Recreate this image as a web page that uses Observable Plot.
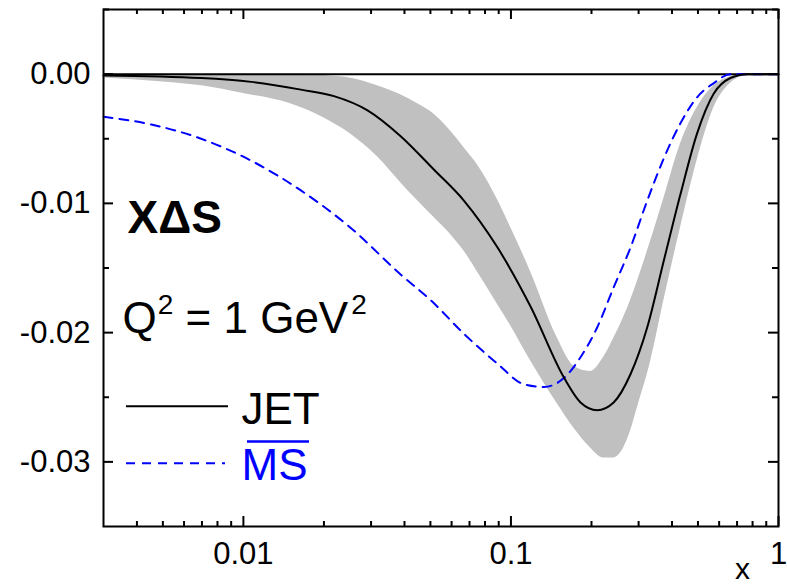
<!DOCTYPE html>
<html><head><meta charset="utf-8">
<script src="https://cdn.jsdelivr.net/npm/d3@7"></script>
<script src="https://cdn.jsdelivr.net/npm/@observablehq/plot@0.6"></script>
<style>
body{margin:0;background:#fff;}
</style>
</head><body><div id="chart"></div>
<script>
// ---- data ----
const bandX = [0.003, 0.005, 0.007, 0.01, 0.015, 0.02, 0.025, 0.0317, 0.0387, 0.0448, 0.0516, 0.06, 0.0668, 0.076, 0.089, 0.1, 0.1185, 0.149, 0.172, 0.198, 0.222, 0.24, 0.264, 0.28, 0.295, 0.333, 0.373, 0.43, 0.496, 0.573, 0.661, 0.762, 1];
const bandUpper = [0, 0, 0, 0, 0, -0.0001, -0.0003, -0.0009, -0.0016, -0.0023, -0.0031, -0.0045, -0.0057, -0.0072, -0.0097, -0.0119, -0.0153, -0.0204, -0.0226, -0.0230, -0.0219, -0.0206, -0.0188, -0.0175, -0.0162, -0.0129, -0.0096, -0.0054, -0.0026, -0.0009, -0.0002, 0, 0];
const bandLower = [-0.0003, -0.0006, -0.0009, -0.0015, -0.0023, -0.0034, -0.0046, -0.0064, -0.0084, -0.0098, -0.0111, -0.0125, -0.0137, -0.0155, -0.0178, -0.0195, -0.0222, -0.0255, -0.0274, -0.0289, -0.0297, -0.0297, -0.0289, -0.0276, -0.0260, -0.0222, -0.0175, -0.0119, -0.0067, -0.0026, -0.0007, -0.0001, 0];

const jetX = [0.003, 0.00695, 0.0107, 0.0164, 0.0218, 0.0291, 0.0387, 0.0516, 0.0668, 0.089, 0.1185, 0.158, 0.182, 0.21, 0.242, 0.28, 0.323, 0.373, 0.43, 0.496, 0.573, 0.661, 0.762, 1];
const jetY = [-0.0001, -0.0003, -0.0006, -0.0012, -0.0017, -0.0028, -0.0048, -0.0074, -0.0098, -0.0134, -0.0180, -0.0235, -0.0254, -0.0260, -0.0254, -0.0232, -0.0196, -0.0144, -0.0093, -0.0046, -0.0015, -0.0003, 0, 0];

const msX = [0.003, 0.00453, 0.00695, 0.0107, 0.0164, 0.0252, 0.0387, 0.0502, 0.0668, 0.089, 0.112, 0.133, 0.158, 0.182, 0.21, 0.242, 0.28, 0.323, 0.373, 0.43, 0.496, 0.573, 0.661, 1];
const msY = [-0.0033, -0.0039, -0.0050, -0.0067, -0.0090, -0.0119, -0.0155, -0.0175, -0.0201, -0.0224, -0.0240, -0.0242, -0.0235, -0.0219, -0.0196, -0.0165, -0.0134, -0.0098, -0.0065, -0.0038, -0.0018, -0.0007, 0, 0];

const xMajorTicks = [0.01, 0.1, 1];
const xTickLabels = ["0.01", "0.1", "1"];
const xMinorTicks = [0.004, 0.005, 0.006, 0.007, 0.008, 0.009, 0.02, 0.03, 0.04, 0.05, 0.06, 0.07, 0.08, 0.09, 0.2, 0.3, 0.4, 0.5, 0.6, 0.7, 0.8, 0.9];
const yMajorTicks = [0, -0.01, -0.02, -0.03];
const yTickLabels = ["0.00", "-0.01", "-0.02", "-0.03"];
const yMinorTicks = [0.005, -0.005, -0.015, -0.025];
const seriesNames = ["JET", "MS"];
const panelTitle = "XΔS";
const scaleNote = "Q² = 1 GeV²";
const xAxisTitle = "x";

// ---- tables for the library ----
const band = bandX.map((x, i) => ({x, lo: bandLower[i], hi: bandUpper[i]}));
const jet = jetX.map((x, i) => ({x, y: jetY[i]}));
const ms = msX.map((x, i) => ({x, y: msY[i]}));

const W = 787, H = 587;
const mL = 103, mR = 9, mT = 9, mB = 61;
const fw = W - mL - mR, fh = H - mT - mB;
const ink = "black", blue = "#0000ff";

const plot = Plot.plot({
  width: W, height: H,
  marginLeft: mL, marginRight: mR, marginTop: mT, marginBottom: mB,
  style: {fontFamily: "'Liberation Sans', Arial, sans-serif", fontSize: "31px", background: "white", color: "black"},
  x: {type: "log", domain: [0.003, 1], ticks: xMajorTicks,
      tickFormat: d => xTickLabels[xMajorTicks.indexOf(d)], tickSize: 0, tickPadding: 15, label: null},
  y: {domain: [-0.035, 0.005], ticks: yMajorTicks,
      tickFormat: d => yTickLabels[yMajorTicks.indexOf(d)], tickSize: 0, tickPadding: 13, label: null},
  marks: [
    Plot.areaY(band, {x: "x", y1: "lo", y2: "hi", fill: "#c0c0c0", curve: "monotone-x"}),
    Plot.ruleY([0], {stroke: ink, strokeWidth: 2}),
    Plot.line(ms, {x: "x", y: "y", stroke: blue, strokeWidth: 2, strokeDasharray: "9,7", curve: "monotone-x"}),
    Plot.line(jet, {x: "x", y: "y", stroke: ink, strokeWidth: 2, curve: "monotone-x"}),
    Plot.frame({stroke: ink, strokeWidth: 2}),
    // inward ticks, bottom & top
    Plot.tickX(xMajorTicks, {x: d => d, stroke: ink, strokeWidth: 2, insetTop: fh - 10}),
    Plot.tickX(xMinorTicks, {x: d => d, stroke: ink, strokeWidth: 2, insetTop: fh - 5}),
    Plot.tickX(xMajorTicks, {x: d => d, stroke: ink, strokeWidth: 2, insetBottom: fh - 10}),
    Plot.tickX(xMinorTicks, {x: d => d, stroke: ink, strokeWidth: 2, insetBottom: fh - 5}),
    // inward ticks, left & right
    Plot.tickY(yMajorTicks, {y: d => d, stroke: ink, strokeWidth: 2, insetRight: fw - 10}),
    Plot.tickY(yMinorTicks, {y: d => d, stroke: ink, strokeWidth: 2, insetRight: fw - 6}),
    Plot.tickY(yMajorTicks, {y: d => d, stroke: ink, strokeWidth: 2, insetLeft: fw - 10}),
    Plot.tickY(yMinorTicks, {y: d => d, stroke: ink, strokeWidth: 2, insetLeft: fw - 6}),
    // annotations
    Plot.text([panelTitle], {text: d => d, frameAnchor: "top-left", lineAnchor: "middle", dx: 24, dy: 209, textAnchor: "start", fontSize: 46, fontWeight: "bold", fill: ink}),
    Plot.text([scaleNote], {text: d => d, frameAnchor: "top-left", lineAnchor: "middle", dx: 19, dy: 309, textAnchor: "start", fontSize: 44, fill: ink}),
    // legend
    Plot.tickY([-0.0257], {y: d => d, stroke: ink, strokeWidth: 2, insetLeft: 23, insetRight: 550}),
    Plot.tickY([-0.0301], {y: d => d, stroke: blue, strokeWidth: 2, strokeDasharray: "9,7", insetLeft: 23, insetRight: 553}),
    Plot.text([seriesNames[0]], {text: d => d, frameAnchor: "top-left", lineAnchor: "middle", dx: 138, dy: 400, textAnchor: "start", fontSize: 44, fill: ink}),
    Plot.text([seriesNames[1]], {text: d => d, frameAnchor: "top-left", lineAnchor: "middle", dx: 138, dy: 456, textAnchor: "start", fontSize: 44, fill: blue}),
    // overline of MS
    Plot.tickY([-0.02842], {y: d => d, stroke: blue, strokeWidth: 2.5, insetLeft: 144, insetRight: 469}),
    // axis title
    Plot.text([xAxisTitle], {text: d => d, frameAnchor: "bottom-right", lineAnchor: "middle", dx: -36, dy: 43, textAnchor: "middle", fontSize: 30, fill: ink})
  ]
});

document.getElementById("chart").appendChild(plot);

// superscripts
const svgEl = plot.tagName.toLowerCase() === "svg" ? plot : plot.querySelector("svg");
svgEl.querySelectorAll("text").forEach(t => {
  if (t.textContent === scaleNote) {
    while (t.firstChild) t.removeChild(t.firstChild);
    const ns = "http://www.w3.org/2000/svg";
    const parts = [["Q", null, null, null], ["2", 28, -19, 1], [" = 1 GeV", null, 19, 0], ["2", 28, -19, 3]];
    parts.forEach(([s, fs, dy, dx]) => {
      const sp = document.createElementNS(ns, "tspan");
      sp.textContent = s;
      if (fs) sp.setAttribute("font-size", fs);
      if (dy) sp.setAttribute("dy", dy);
      if (dx) sp.setAttribute("dx", dx);
      t.appendChild(sp);
    });
  }
});
</script>
</body></html>
